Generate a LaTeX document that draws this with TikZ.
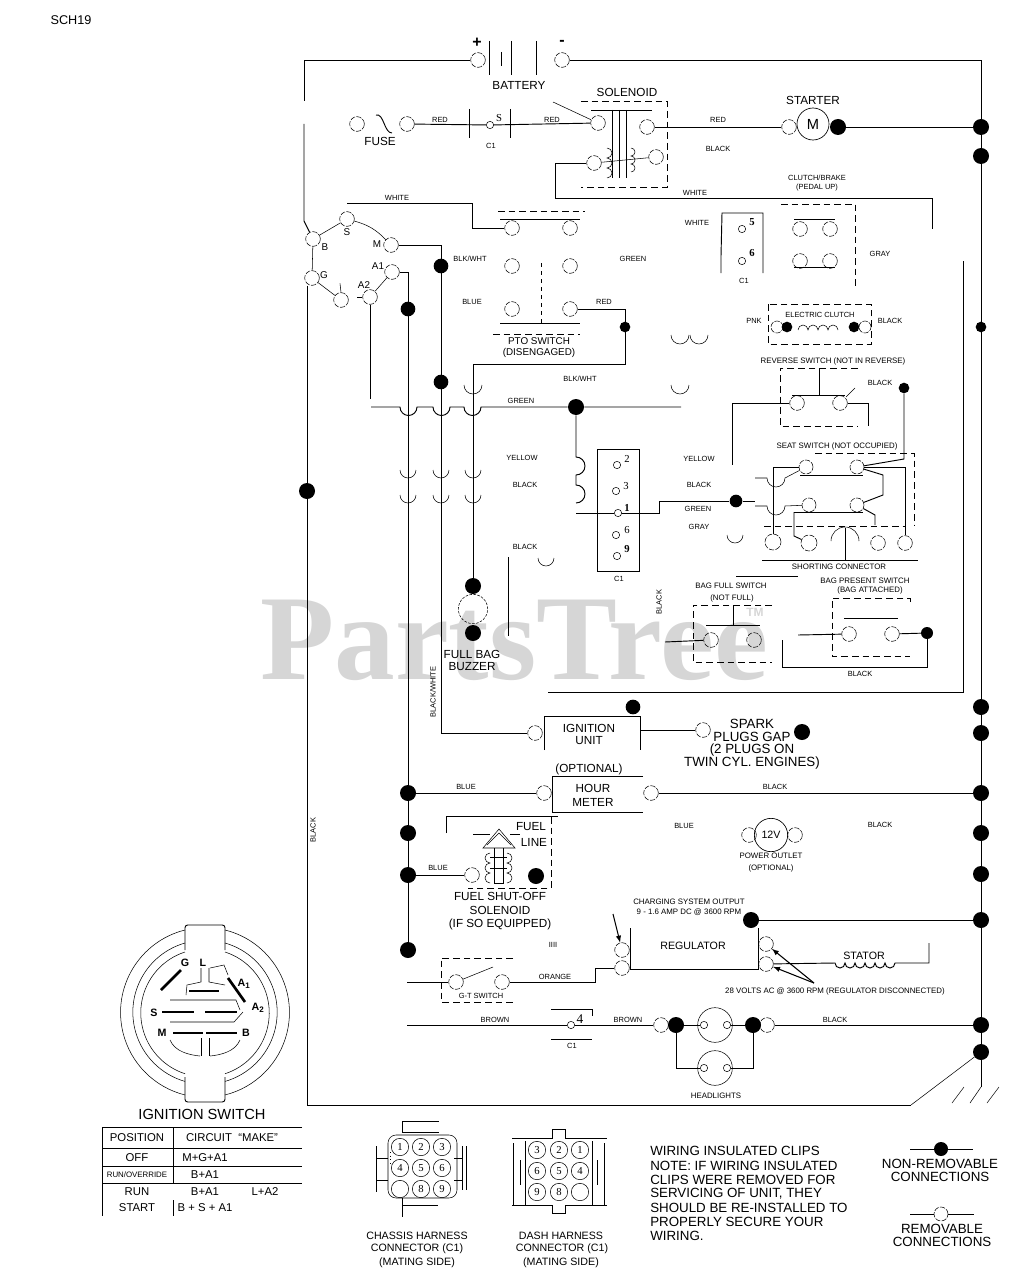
\documentclass[tikz,border=0pt]{standalone}
\usepackage{fontspec}
\setmainfont{Liberation Sans}
\newfontfamily\numfont{Liberation Serif}
\usetikzlibrary{positioning}
\tikzset{
  term/.style={circle,draw,line width=0.4pt,dash pattern=on 4pt off 1pt,inner sep=0pt,minimum size=11pt},
  pinhole/.style={circle,draw,line width=0.4pt,inner sep=0pt,minimum size=5.5pt},
  pinlarge/.style={circle,draw,line width=0.4pt,inner sep=0pt,minimum size=13pt},
  bigdot/.style={circle,fill,inner sep=0pt,minimum size=12pt},
  smalldot/.style={circle,fill,inner sep=0pt,minimum size=8pt},
  wire/.style={line width=0.7pt},
  thinline/.style={line width=0.4pt},
  dashbox/.style={line width=0.5pt,dash pattern=on 5pt off 3pt},
  contact/.style={line width=2pt},
  lbl/.style={font=\fontsize{5.6}{6}\selectfont,inner sep=0pt},
  sml/.style={font=\fontsize{5.9}{7}\selectfont,inner sep=0pt},
  midtxt/.style={font=\fontsize{7.4}{8}\selectfont,inner sep=0pt},
  captxt/.style={font=\fontsize{8.8}{10}\selectfont,inner sep=0pt},
  bigtxt/.style={font=\fontsize{10}{11}\selectfont,inner sep=0pt},
  tbl/.style={font=\fontsize{8.5}{10}\selectfont,inner sep=0pt},
  num/.style={font=\numfont\fontsize{8}{9}\selectfont,inner sep=0pt},
  numb/.style={font=\numfont\bfseries\fontsize{8}{9}\selectfont,inner sep=0pt},
}
\begin{document}
\begin{tikzpicture}[x=0.75pt,y=-0.75pt]
\useasboundingbox (0,0) rectangle (1027,1280);
\node[font=\numfont\bfseries\fontsize{91}{92}\selectfont,text=black!16,inner sep=0pt] (water) at (514,640) {PartsTree};
\node[text=black!16,font=\bfseries\fontsize{9}{10}\selectfont,inner sep=0pt] (watertm) at (755,612) {TM};
\node[font=\fontsize{9.5}{10}\selectfont,inner sep=0pt] (sheet) at (71,20) {SCH19};

\node[term] (batp) at (478,60) {};
\node[term] (batn) at (562,60) {};
\node[font=\bfseries\fontsize{12}{12}\selectfont,inner sep=0pt] (plus) at (477,43) {+};
\node[font=\bfseries\fontsize{12}{12}\selectfont,inner sep=0pt] (minus) at (562,43) {-};
\node[captxt] (batlbl) at (519,85) {BATTERY};
\draw[wire] (489,41) -- (489,75);
\draw[wire] (501,52) -- (501,66);
\draw[wire] (511,41) -- (511,75);
\draw[wire] (536,41) -- (536,75);
\coordinate (gapa) at (304,101);
\coordinate (gapb) at (304,124);
\node[term] (igb) at (313,239) {};
\node[term] (igs) at (347,219) {};
\node[term] (igm) at (391,245) {};
\node[term] (iga1) at (392,272) {};
\node[term] (iga2) at (370,297) {};
\node[term] (igl) at (341,300) {};
\node[term] (igg) at (312,278) {};
\node[midtxt] (lb) at (325,247) {B};
\node[midtxt] (ls) at (347,232) {S};
\node[midtxt] (lm) at (377,244) {M};
\node[midtxt] (la1) at (378,266) {A1};
\node[midtxt] (la2) at (364,285) {A2};
\node[midtxt] (lg) at (324,275) {G};
\draw[wire] (batp) -| (gapa);
\draw[wire] (gapb) -- (304,221) -- (igb);
\draw[thinline] (igb) -- (igs);
\draw[thinline] (igs) to[bend left=15] (igm);
\draw[thinline] (igb) -- (igg);
\draw[thinline] (igg) -- (igl);
\draw[thinline] (iga1) -- (iga2);
\draw[thinline] (igl.north) -- ++(-1,-9);
\draw[thinline] (iga2.west) -- ++(-5,0);

\node[term] (fusel) at (357,124) {};
\node[term] (fuser) at (407,124) {};
\node[captxt] (fuselbl) at (380,141) {FUSE};
\draw[wire] (376,115) .. controls (384,113) and (384,133) .. (392,133);
\node[pinhole] (pins) at (490,125) {};
\node[num] (pinslbl) at (499,118) {S};
\node[lbl] (c1a) at (491,146) {C1};
\draw[wire] (469,109) -- (469,138);
\draw[wire] (510,109) -- (510,138);
\node[lbl] (reda) at (440,120) {RED};
\node[lbl] (redb) at (552,120) {RED};
\node[term] (sola) at (598,123) {};
\node[term] (solb) at (647,127) {};
\node[term] (solc) at (594,163) {};
\node[term] (sold) at (656,157) {};
\draw[wire] (fuser) -- (pins);
\draw[wire] (pins) -- (sola);
\draw[thinline] (553,102) -- (sola);
\node[captxt] (sollbl) at (627,92) {SOLENOID};
\draw[dashbox] (581,101) -- (667,101) -- (667,187) -- (581,187);
\draw[wire] (591,110) -- (652,110);
\draw[wire] (612,110) -- (612,178);
\draw[wire] (619,110) -- (619,178);
\draw[wire] (626,110) -- (626,178);
\draw[thinline] (607,148) arc (-90:90:5) arc (-90:90:5) arc (-90:90:5);
\draw[thinline] (631,148) arc (-90:90:4) arc (-90:90:4) arc (-90:90:4);
\draw[thinline] (solc) -- (sold);
\coordinate (solw) at (555,198);
\coordinate (clw) at (932,229);
\draw[wire] (solc) -| (solw) -| (clw);
\node[lbl] (whitea) at (695,193) {WHITE};

\node[term] (stra) at (789,127) {};
\node[circle,draw,line width=0.5pt,inner sep=0pt,minimum size=24pt,font=\fontsize{11}{12}\selectfont] (motor) at (813,124) {M};
\node[bigdot] (strb) at (838,127) {};
\node[captxt] (strlbl) at (813,100) {STARTER};
\node[lbl] (redc) at (718,120) {RED};
\node[lbl] (blacka) at (718,149) {BLACK};
\node[bigdot] (ra) at (981,127) {};
\node[bigdot] (rb) at (981,156) {};
\node[smalldot] (rc) at (981,327) {};
\node[bigdot] (rd) at (981,707) {};
\node[bigdot] (re) at (981,733) {};
\node[bigdot] (rf) at (981,793) {};
\node[bigdot] (rg) at (981,833) {};
\node[bigdot] (rh) at (981,874) {};
\node[bigdot] (ri) at (981,920) {};
\node[bigdot] (rj) at (981,1025) {};
\node[bigdot] (rk) at (981,1052) {};
\coordinate (rbot) at (981,1087);
\draw[wire] (batn) -| (rbot);
\draw[wire] (solb) -- (stra);
\draw[wire] (strb) -- (ra);

\node[term] (ptoa) at (512,228) {};
\node[term] (ptob) at (570,228) {};
\node[term] (ptoc) at (512,266) {};
\node[term] (ptod) at (570,266) {};
\node[term] (ptoe) at (512,309) {};
\node[term] (ptof) at (570,309) {};
\node[midtxt] (ptolbl) at (539,341) {PTO SWITCH};
\node[midtxt] (ptolblb) at (539,353) {(DISENGAGED)};
\draw[dashbox] (498,211) -- (585,211);
\draw[wire] (500,219) -- (580,219);
\draw[wire] (500,323) -- (580,323);
\draw[thinline,dashed] (541,263) -- (541,323);
\draw[dashbox] (493,334) -- (580,334);
\coordinate (whiteb) at (347,203);
\draw[wire] (whiteb) -- (472,203) |- (ptoa);
\node[lbl] (whitec) at (397,198) {WHITE};
\node[lbl] (blkwhta) at (470,259) {BLK/WHT};
\node[lbl] (greena) at (633,259) {GREEN};
\node[lbl] (bluea) at (472,302) {BLUE};
\node[lbl] (redd) at (604,302) {RED};
\node[lbl] (blkwhtb) at (580,379) {BLK/WHT};

\node[lbl] (clutlbl) at (817,178) {CLUTCH/BRAKE};
\node[lbl] (clutlblb) at (817,188) {(PEDAL UP)};
\node[term] (cla) at (800,229) {};
\node[term] (clb) at (830,229) {};
\node[term] (clc) at (800,261) {};
\node[term] (cld) at (830,261) {};
\draw[dashbox] (781,204) -- (855,204) -- (855,288);
\draw[wire] (794,219) -- (835,219);
\draw[wire] (794,267) -- (835,267);
\node[lbl] (graya) at (880,254) {GRAY};
\node[lbl] (whited) at (697,223) {WHITE};
\node[pinhole] (pin5) at (742,229) {};
\node[pinhole] (pin6) at (742,261) {};
\node[numb] (pin5l) at (752,222) {5};
\node[numb] (pin6l) at (752,253) {6};
\node[lbl] (c1b) at (744,281) {C1};
\draw[wire] (721,273) -- (721,256) -- (722,213) -- (763,213) -- (763,273);
\coordinate (grtop) at (963,261);
\coordinate (grbot) at (963,692);
\coordinate (grend) at (548,692);
\draw[wire] (grtop) -- (grbot) -- (grend);

\node[lbl] (eclbl) at (820,315) {ELECTRIC CLUTCH};
\draw[dashbox] (768,304) rectangle (871,344);
\node[term,minimum size=9pt] (eca) at (777,327) {};
\node[smalldot] (ecb) at (787,327) {};
\node[smalldot] (ecc) at (854,327) {};
\node[term,minimum size=9pt] (ecd) at (865,327) {};
\draw[thinline] (798,330) arc (180:360:5) arc (180:360:5) arc (180:360:5) arc (180:360:5);
\node[lbl] (pinka) at (754,321) {PNK};
\node[lbl] (blackb) at (890,321) {BLACK};

\node[sml] (revlbl) at (833,361) {REVERSE SWITCH (NOT IN REVERSE)};
\draw[dashbox] (858,368) -- (780,368) -- (780,426) -- (858,426);
\node[term] (reva) at (797,403) {};
\node[term] (revb) at (840,403) {};
\node[smalldot] (revdot) at (904,388) {};
\node[lbl] (blackc) at (880,383) {BLACK};
\draw[wire] (792,395) -- (845,395);
\draw[wire] (819,369) -- (819,395);
\draw[thinline] (846,397) -- (855,388);
\coordinate (yela) at (732,465);
\coordinate (revc) at (868,426);
\draw[wire] (reva) -| (yela);
\draw[wire] (revb) -| (revc);

\node[sml] (seatlbl) at (837,446) {SEAT SWITCH (NOT OCCUPIED)};
\draw[dashbox] (815,453) -- (914,453) -- (914,525);
\draw[dashbox] (764,526) -- (905,526);
\node[term,minimum size=10.5pt] (sta) at (806,467) {};
\node[term,minimum size=10.5pt] (stb) at (857,467) {};
\node[term,minimum size=10.5pt] (stc) at (809,505) {};
\node[term,minimum size=10.5pt] (std) at (857,505) {};
\node[term,minimum size=12pt] (sca) at (773,542) {};
\node[term,minimum size=12pt] (scb) at (809,543) {};
\node[term,minimum size=11pt] (scc) at (878,543) {};
\node[term,minimum size=11pt] (scd) at (905,543) {};
\node[sml] (shlbl) at (839,567) {SHORTING CONNECTOR};
\draw[wire] (762,560) -- (918,560);
\draw[thinline] (831,541) arc (180:360:14);
\draw[wire] (845,528) -- (845,560);
\draw[wire] (800,475) -- (863,475);
\draw[wire] (794,512) -- (863,512);
\draw[wire] (sca) -- (773,467) -- (sta);
\draw[wire] (794,512) -- (794,536) -- (scb);
\draw[wire] (stb) -| (scd);
\draw[wire] (revdot) -- (904,459) -- (stb);
\draw[wire] (stb) -- (883,475) -- (883,495) -- (std);
\draw[wire] (std) -- (875,515) -- (875,525);
\draw[thinline] (755,478) -- (767,478) arc (180:0:9) -- (sta);
\draw[thinline] (755,506) -- (767,506) arc (180:0:9) -- (stc);

\node[draw,wire,minimum width=31pt,minimum height=91pt,inner sep=0pt] (c1box) at (618.5,510.5) {};
\node[pinhole] (c1p2) at (617,465) {};
\node[pinhole] (c1p3) at (616,491) {};
\node[pinhole] (c1p1) at (618,513) {};
\node[pinhole] (c1p6) at (616,535) {};
\node[pinhole] (c1p9) at (617,556) {};
\node[num] (c1l2) at (627,459) {2};
\node[num] (c1l3) at (626,486) {3};
\node[numb] (c1l1) at (627,508) {1};
\node[num] (c1l6) at (627,530) {6};
\node[numb] (c1l9) at (627,549) {9};
\node[lbl] (c1c) at (619,579) {C1};
\node[smalldot,minimum size=9.5pt] (seatdot) at (736,501) {};
\coordinate (t1l) at (576,513);
\draw[wire] (t1l) -- (c1p1);
\draw[wire] (c1p1) -- (659,513) |- (seatdot) -- (755,501);
\node[lbl] (yellowa) at (699,459) {YELLOW};
\node[lbl] (blackd) at (699,485) {BLACK};
\node[lbl] (greenb) at (698,509) {GREEN};
\node[lbl] (grayb) at (699,527) {GRAY};
\draw[thinline] (727,535) arc (180:0:8);

\node[bigdot,minimum size=11pt] (a1a) at (408,309) {};
\node[bigdot] (a1b) at (408,793) {};
\node[bigdot] (a1c) at (408,833) {};
\node[bigdot] (a1d) at (408,875) {};
\node[bigdot] (a1e) at (408,950) {};
\draw[wire] (iga1) -| (a1e);
\node[bigdot,minimum size=11pt] (ma) at (441,266) {};
\node[bigdot,minimum size=11pt] (mb) at (441,382) {};
\node[term] (ignt) at (535,733) {};
\coordinate (mc) at (441,733);
\draw[wire] (igm) -| (mc) -- (ignt);
\node[lbl,rotate=90] (blkwhtc) at (433,692) {BLACK/WHITE};
\coordinate (a2b) at (370,399);
\draw[wire] (iga2) -- (a2b);
\node[bigdot] (buzt) at (473,586) {};
\node[bigdot] (buzb) at (473,633) {};
\node[circle,draw,thinline,dash pattern=on 2pt off 1pt,minimum size=22pt,inner sep=0pt] (buzz) at (473,609) {};
\node[captxt] (buzla) at (472,654) {FULL BAG};
\node[captxt] (buzlb) at (472,667) {BUZZER};
\coordinate (rc1) at (625,364);
\node[smalldot] (reddot) at (625,327) {};
\draw[wire] (ptof) -| (rc1) -| (buzt);
\coordinate (greenl) at (371,407);
\coordinate (greenr) at (681,407);
\node[bigdot] (grndot) at (576,407) {};
\draw[wire] (greenl) -- (400,407) arc (180:0:8.5) -- (433,407) arc (180:0:8.5) -- (464,407) arc (180:0:8.5) -- (grndot) -- (greenr);
\node[lbl] (greenc) at (521,401) {GREEN};
\draw[wire] (grndot) -- (576,457) arc (-90:90:9) -- (576,485) arc (-90:90:9);
\draw[thinline] (464,385) arc (180:0:9);
\draw[thinline] (671,385) arc (180:0:9);
\draw[thinline] (671,335) arc (180:0:9);
\draw[thinline] (690,335) arc (180:0:9);
\draw[thinline] (400,470) arc (180:0:8);
\draw[thinline] (433,470) arc (180:0:8);
\draw[thinline] (465,470) arc (180:0:8);
\draw[thinline] (400,495) arc (180:0:8);
\draw[thinline] (433,495) arc (180:0:8);
\draw[thinline] (465,495) arc (180:0:8);
\draw[thinline] (538,558) arc (180:0:8);
\node[lbl] (yellowb) at (522,458) {YELLOW};
\node[lbl] (blacke) at (525,485) {BLACK};
\node[lbl] (blackf) at (525,547) {BLACK};
\coordinate (bka) at (508,557);
\coordinate (bkb) at (508,636);
\draw[wire] (bka) -- (bkb);

\node[sml] (bfla) at (731,586) {BAG FULL SWITCH};
\node[sml] (bflb) at (732,598) {(NOT FULL)};
\draw[dashbox] (772,605) -- (693,605) -- (693,662) -- (772,662);
\draw[wire] (706,625) -- (760,625);
\draw[wire] (733,605) -- (733,625);
\node[term] (bfa) at (711,640) {};
\node[term] (bfb) at (754,640) {};
\coordinate (bfw) at (665,642);
\draw[wire] (bfw) -- (bfa);
\node[lbl,rotate=90] (blackg) at (659,602) {BLACK};
\coordinate (bfu) at (736,576);
\coordinate (bfv) at (798,576);
\draw[wire] (bfu) -- (bfv);
\node[sml] (bpla) at (865,581) {BAG PRESENT SWITCH};
\node[sml] (bplb) at (870,590) {(BAG ATTACHED)};
\draw[dashbox] (910,602) -- (910,598) -- (832,598) -- (832,656) -- (910,656);
\draw[wire] (844,618) -- (898,618);
\node[term] (bpa) at (849,634) {};
\node[term] (bpb) at (892,634) {};
\node[smalldot,minimum size=9pt] (bpdot) at (927,633) {};
\coordinate (bpw) at (798,635);
\coordinate (bpx) at (782,640);
\draw[wire] (bpw) -- (bpa);
\draw[wire] (bpb) -- (bpdot);
\draw[wire] (bpdot) |- (782,667) -- (bpx);
\node[lbl] (blackh) at (860,674) {BLACK};

\draw[wire] (544,750) -- (544,716) -- (640,716) -- (640,750);
\node[bigdot,minimum size=11pt] (igdot) at (633,707) {};
\node[captxt] (igla) at (589,728) {IGNITION};
\node[captxt] (iglb) at (589,741) {UNIT};
\node[term] (spark) at (703,730) {};
\coordinate (igout) at (640,730);
\draw[wire] (igout) -- (spark);
\node[bigtxt] (spa) at (752,724) {SPARK};
\node[bigtxt] (spb) at (752,737) {PLUGS GAP};
\node[bigtxt] (spc) at (752,750) {(2 PLUGS ON};
\node[bigtxt] (spd) at (752,763) {TWIN CYL. ENGINES)};
\node[bigdot] (spdot) at (802,732) {};

\node[captxt] (hmo) at (589,769) {(OPTIONAL)};
\draw[wire] (643,776) -- (552,776) -- (552,812) -- (643,812);
\node[captxt] (hma) at (593,788) {HOUR};
\node[captxt] (hmb) at (593,802) {METER};
\node[term] (hml) at (544,793) {};
\node[term] (hmr) at (651,793) {};
\draw[wire] (a1b) -- (hml);
\draw[wire] (hmr) -- (rf);
\node[lbl] (blueb) at (466,787) {BLUE};
\node[lbl] (blacki) at (775,787) {BLACK};
\node[lbl] (bluec) at (684,826) {BLUE};
\node[lbl] (blackj) at (880,825) {BLACK};

\node[circle,draw,line width=0.5pt,inner sep=0pt,minimum size=25pt,font=\fontsize{8}{9}\selectfont] (pwr) at (771,835) {12V};
\node[term] (pwrl) at (749,835) {};
\node[term] (pwrr) at (795,835) {};
\node[sml] (pwra) at (771,856) {POWER OUTLET};
\node[sml] (pwrb) at (771,868) {(OPTIONAL)};

\coordinate (fsa) at (446,833);
\coordinate (fsb) at (558,816);
\draw[wire] (fsa) |- (fsb);
\draw[dashbox] (551,817) -- (551,888) -- (468,888);
\node[term] (fsterm) at (472,875) {};
\node[bigdot] (fsdot) at (536,876) {};
\node[lbl] (blued) at (438,868) {BLUE};
\draw[wire] (a1d) -- (fsterm);
\draw[thinline] (483,848) -- (499,829) -- (515,848) -- cycle;
\draw[thinline] (487,845) -- (499,833) -- (511,845);
\draw[wire] (494,848) -- (494,883) -- (503,883) -- (503,848);
\draw[thinline] (490,857) -- (507,857);
\draw[thinline] (490,868) -- (507,868);
\draw[thinline] (490,853) arc (-90:-270:5) arc (-90:-270:5) arc (-90:-270:5);
\draw[thinline] (507,853) arc (-90:90:5) arc (-90:90:5) arc (-90:90:5);
\draw[wire] (473,834) -- (490,834);
\draw[wire] (510,834) -- (520,834);
\node[captxt] (fsla) at (531,827) {FUEL};
\node[captxt] (fslb) at (534,842) {LINE};
\node[captxt] (fslc) at (500,896) {FUEL SHUT-OFF};
\node[captxt] (fsld) at (500,910) {SOLENOID};
\node[captxt] (fsle) at (500,924) {(IF SO EQUIPPED)};

\node[sml] (chga) at (689,902) {CHARGING SYSTEM OUTPUT};
\node[sml] (chgb) at (689,912) {9 - 1.6 AMP DC @ 3600 RPM};
\node[bigdot] (chgdot) at (751,920) {};
\draw[wire] (chgdot) -- (ri);
\draw[wire] (630,928) -- (630,969) -- (758,969) -- (758,928);
\node[font=\fontsize{8}{9}\selectfont,inner sep=0pt] (reglbl) at (693,946) {REGULATOR};
\node[term] (rega) at (622,950) {};
\node[term] (regb) at (622,968) {};
\node[term] (regc) at (766,944) {};
\node[term] (regd) at (766,964) {};
\draw[thick,-latex] (613,914) -- (rega);
\node[font=\fontsize{8}{9}\selectfont,inner sep=0pt] (statlbl) at (864,956) {STATOR};
\coordinate (stta) at (929,943);
\draw[wire] (regd) -- (835,963) arc (180:0:5) arc (180:0:5) arc (180:0:5) arc (180:0:5) arc (180:0:5) arc (180:0:5) -- (929,963) -- (stta);
\coordinate (vac) at (814,983);
\draw[thick,-latex] (vac) -- (regc);
\draw[thick,-latex] (vac) -- (regd);
\node[sml] (vaclbl) at (835,991) {28 VOLTS AC @ 3600 RPM (REGULATOR DISCONNECTED)};

\node[lbl] (gtc) at (553,945) {IIII};
\draw[dashbox] (513,958) -- (441,958) -- (441,1002) -- (513,1002);
\node[term] (gta) at (456,982) {};
\node[term] (gtb) at (502,982) {};
\draw[thinline] (gta) -- (493,967);
\node[lbl] (gtlbl) at (481,996) {G-T SWITCH};
\coordinate (gtw) at (407,982);
\draw[wire] (gtw) -- (gta);
\draw[wire] (gtb) -- (595,982) |- (regb);
\node[lbl] (orange) at (555,977) {ORANGE};

\coordinate (brn) at (407,1025);
\node[pinhole] (pin4) at (571,1025) {};
\node[font=\numfont\fontsize{10}{11}\selectfont,inner sep=0pt] (pin4l) at (580,1019) {4};
\node[term] (hla) at (661,1025) {};
\node[bigdot] (hlb) at (676,1025) {};
\node[bigdot] (hlc) at (753,1025) {};
\node[term] (hld) at (767,1025) {};
\node[circle,draw,thinline,minimum size=26pt,inner sep=0pt] (lampa) at (715,1025) {};
\node[circle,draw,thinline,minimum size=26pt,inner sep=0pt] (lampb) at (715,1068) {};
\node[pinhole] (lampc) at (704,1025) {};
\node[pinhole] (lampd) at (727,1025) {};
\node[pinhole] (lampe) at (704,1068) {};
\node[pinhole] (lampf) at (727,1068) {};
\draw[wire] (brn) -- (pin4);
\draw[wire] (pin4) -- (hla);
\draw[wire] (hlb) -- (lampc);
\draw[wire] (lampd) -- (hlc);
\draw[wire] (hld) -- (rj);
\draw[wire] (hlb) |- (lampe);
\draw[wire] (lampf) -| (hlc);
\draw[wire] (551,1009) -- (592,1009) -- (592,1016);
\draw[wire] (551,1039) -- (592,1039);
\node[lbl] (brna) at (495,1020) {BROWN};
\node[lbl] (brnb) at (628,1020) {BROWN};
\node[lbl] (blackk) at (835,1020) {BLACK};
\node[lbl] (c1d) at (572,1046) {C1};
\node[sml] (hllbl) at (716,1096) {HEADLIGHTS};

\node[bigdot] (leftdot) at (307,491) {};
\coordinate (lc) at (307,1105);
\coordinate (gnd) at (911,1105);
\draw[wire] (igg.south -| leftdot) -- (lc) -- (gnd);
\draw[thinline] (gnd) -- (rk);
\draw[thinline] (952,1103) -- (964,1087);
\draw[thinline] (970,1103) -- (981,1087);
\draw[thinline] (987,1103) -- (999,1087);
\node[lbl,rotate=90] (blackl) at (313,830) {BLACK};

\draw[wire,rounded corners=2pt] (185,950) -- (185,925) -- (225,925) -- (225,950);
\draw[wire,rounded corners=2pt] (185,1077) -- (185,1102) -- (225,1102) -- (225,1077);
\draw[thinline] (185,930) arc (256:104:85);
\draw[thinline] (225,930) arc (-76:76:85);
\draw[thinline] (185,943) arc (254:106:72);
\draw[thinline] (225,943) arc (-74:74:72);
\draw[thinline] (185,952) arc (252:108:64);
\draw[thinline] (225,952) arc (-72:72:64);
\draw[contact] (161,990) -- (181,970);
\draw[contact] (189,991) -- (219,991);
\draw[contact] (228,978) -- (245,1002);
\draw[contact] (162,1012) -- (194,1012);
\draw[contact] (205,1012) -- (237,1012);
\draw[contact] (173,1033) -- (203,1033);
\draw[contact] (206,1033) -- (237,1033);
\draw[thinline] (201,968) -- (201,982) -- (187,985) -- (186,995);
\draw[thinline] (209,968) -- (209,982) -- (225,985);
\draw[thinline] (210,968) -- (224,965) -- (228,975);
\draw[thinline] (170,1000) -- (236,1000) -- (240,1010);
\draw[thinline] (170,1022) -- (234,1022) -- (243,1012);
\draw[thinline] (170,1040) .. controls (175,1052) and (190,1055) .. (200,1056);
\draw[thinline] (240,1040) .. controls (235,1052) and (220,1055) .. (210,1056);
\draw[thinline] (201,1038) -- (201,1056);
\draw[thinline] (209,1038) -- (209,1056);
\node[font=\bfseries\fontsize{8}{9}\selectfont,inner sep=0pt] (swg) at (185,963) {G};
\node[font=\bfseries\fontsize{8}{9}\selectfont,inner sep=0pt] (swl) at (203,963) {L};
\node[font=\bfseries\fontsize{8}{9}\selectfont,inner sep=0pt] (swa) at (244,984) {A\textsubscript{1}};
\node[font=\bfseries\fontsize{8}{9}\selectfont,inner sep=0pt] (swb) at (258,1008) {A\textsubscript{2}};
\node[font=\bfseries\fontsize{8}{9}\selectfont,inner sep=0pt] (sws) at (154,1013) {S};
\node[font=\bfseries\fontsize{8}{9}\selectfont,inner sep=0pt] (swm) at (162,1033) {M};
\node[font=\bfseries\fontsize{8}{9}\selectfont,inner sep=0pt] (swn) at (246,1033) {B};
\node[font=\fontsize{11}{12}\selectfont,inner sep=0pt] (swlbl) at (202,1114) {IGNITION SWITCH};

\draw[wire] (302,1127) -- (102,1127) -- (102,1216);
\draw[wire] (173,1127) -- (173,1183);
\draw[wire] (173,1200) -- (173,1216);
\draw[wire] (102,1148) -- (302,1148);
\draw[wire] (102,1166) -- (302,1166);
\draw[wire] (102,1183) -- (302,1183);
\node[tbl] (ta) at (137,1138) {POSITION};
\node[tbl] (tb) at (232,1138) {CIRCUIT \ ``MAKE''};
\node[tbl] (tc) at (137,1158) {OFF};
\node[tbl] (td) at (205,1158) {M+G+A1};
\node[sml] (te) at (137,1175) {RUN/OVERRIDE};
\node[tbl] (tf) at (205,1175) {B+A1};
\node[tbl] (tg) at (137,1192) {RUN};
\node[tbl] (th) at (205,1192) {B+A1};
\node[tbl] (ti) at (265,1192) {L+A2};
\node[tbl] (tj) at (137,1208) {START};
\node[tbl] (tk) at (205,1208) {B + S + A1};

\draw[thinline,rounded corners=6pt] (388,1135) rectangle (457,1198);
\draw[wire] (402,1132) -- (402,1121) -- (439,1121);
\draw[wire] (402,1132) -- (439,1132);
\draw[wire] (402,1198) -- (402,1217);
\draw[wire] (402,1205) -- (438,1205);
\draw[wire] (376,1146) -- (376,1192);
\draw[wire] (376,1158) -- (388,1158);
\draw[wire] (376,1180) -- (388,1180);
\draw[wire] (462,1146) -- (462,1190);
\draw[wire] (466,1146) -- (466,1190);
\draw[wire] (454,1158) -- (462,1158);
\draw[wire] (454,1180) -- (462,1180);
\draw[wire,dotted] (390,1152) -- (390,1165);
\node[pinlarge,num] (cha) at (400,1147) {1};
\node[pinlarge,num] (chb) at (421,1147) {2};
\node[pinlarge,num] (chc) at (442,1147) {3};
\node[pinlarge,num] (chd) at (400,1168) {4};
\node[pinlarge,num] (che) at (421,1168) {5};
\node[pinlarge,num] (chf) at (442,1168) {6};
\node[pinlarge,num] (chg) at (400,1189) {};
\node[pinlarge,num] (chh) at (421,1189) {8};
\node[pinlarge,num] (chi) at (442,1189) {9};
\node[font=\fontsize{8}{9}\selectfont,inner sep=0pt] (chla) at (417,1236) {CHASSIS HARNESS};
\node[font=\fontsize{8}{9}\selectfont,inner sep=0pt] (chlb) at (417,1249) {CONNECTOR (C1)};
\node[font=\fontsize{8}{9}\selectfont,inner sep=0pt] (chlc) at (417,1263) {(MATING SIDE)};

\draw[wire] (512,1138) -- (552,1138) -- (552,1129) -- (565,1129) -- (565,1138) -- (607,1138);
\draw[wire] (512,1205) -- (552,1205) -- (552,1213) -- (565,1213) -- (565,1205) -- (607,1205);
\draw[wire] (525,1141) -- (525,1205);
\draw[wire] (592,1141) -- (592,1205);
\draw[wire] (513,1143) -- (513,1205);
\draw[wire] (520,1160) -- (520,1185);
\draw[wire] (604,1143) -- (604,1205);
\draw[wire] (597,1160) -- (597,1185);
\node[pinlarge,num] (dha) at (537,1150) {3};
\node[pinlarge,num] (dhb) at (559,1150) {2};
\node[pinlarge,num] (dhc) at (580,1150) {1};
\node[pinlarge,num] (dhd) at (537,1171) {6};
\node[pinlarge,num] (dhe) at (559,1171) {5};
\node[pinlarge,num] (dhf) at (580,1171) {4};
\node[pinlarge,num] (dhg) at (537,1192) {9};
\node[pinlarge,num] (dhh) at (559,1192) {8};
\node[pinlarge,num] (dhi) at (580,1192) {};
\node[font=\fontsize{8}{9}\selectfont,inner sep=0pt] (dhla) at (561,1236) {DASH HARNESS};
\node[font=\fontsize{8}{9}\selectfont,inner sep=0pt] (dhlb) at (562,1249) {CONNECTOR (C1)};
\node[font=\fontsize{8}{9}\selectfont,inner sep=0pt] (dhlc) at (561,1263) {(MATING SIDE)};

\node[bigtxt,anchor=west] (noa) at (650,1151) {WIRING INSULATED CLIPS};
\node[bigtxt,anchor=west] (nob) at (650,1166) {NOTE: IF WIRING INSULATED};
\node[bigtxt,anchor=west] (noc) at (650,1180) {CLIPS WERE REMOVED FOR};
\node[bigtxt,anchor=west] (nod) at (650,1194) {SERVICING OF UNIT, THEY};
\node[bigtxt,anchor=west] (noe) at (650,1208) {SHOULD BE RE-INSTALLED TO};
\node[bigtxt,anchor=west] (nof) at (650,1222) {PROPERLY SECURE YOUR};
\node[bigtxt,anchor=west] (nog) at (650,1236) {WIRING.};

\node[bigdot,minimum size=10.5pt] (keydot) at (941,1149) {};
\coordinate (keya) at (910,1149);
\coordinate (keyb) at (973,1149);
\draw[wire] (keya) -- (keydot) -- (keyb);
\node[bigtxt] (keyc) at (940,1164) {NON-REMOVABLE};
\node[bigtxt] (keyd) at (940,1177) {CONNECTIONS};
\node[term,minimum size=10.5pt] (keyt) at (941,1214) {};
\coordinate (keye) at (910,1214);
\coordinate (keyf) at (974,1214);
\draw[wire] (keye) -- (keyt);
\draw[wire] (keyt) -- (keyf);
\node[bigtxt] (keyg) at (942,1229) {REMOVABLE};
\node[bigtxt] (keyh) at (942,1242) {CONNECTIONS};
\end{tikzpicture}
\end{document}
